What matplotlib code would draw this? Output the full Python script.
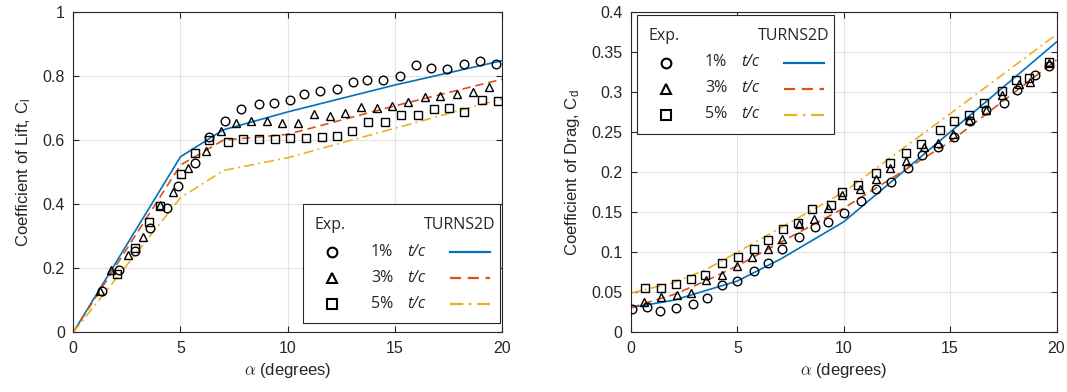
import numpy as np
import matplotlib
matplotlib.use("Agg")
import matplotlib.pyplot as plt
from matplotlib.patches import Rectangle
from matplotlib.lines import Line2D

plt.rcParams['font.family'] = ['Liberation Sans', 'DejaVu Sans']
plt.rcParams['mathtext.fontset'] = 'cm'

# ---- data ----
lift_a1 = [1.32, 2.13, 2.88, 3.58, 4.36, 4.90, 5.68, 6.33, 7.08, 7.81, 8.65, 9.38, 10.11,
           10.78, 11.51, 12.29, 13.04, 13.72, 14.47, 15.24, 15.99, 16.68, 17.45, 18.23, 18.98, 19.72]
lift_c1 = [0.129, 0.193, 0.255, 0.325, 0.387, 0.458, 0.528, 0.609, 0.661, 0.698, 0.713, 0.717, 0.726,
           0.744, 0.752, 0.761, 0.780, 0.788, 0.788, 0.801, 0.834, 0.825, 0.822, 0.838, 0.847, 0.838]
lift_a3 = [1.25, 1.74, 2.57, 3.27, 4.05, 4.67, 5.37, 6.18, 6.88, 7.58, 8.28, 9.02, 9.72,
           10.50, 11.23, 11.98, 12.68, 13.41, 14.19, 14.89, 15.63, 16.41, 17.11, 17.92, 18.67, 19.41]
lift_c3 = [0.129, 0.193, 0.242, 0.297, 0.398, 0.439, 0.512, 0.567, 0.627, 0.655, 0.661, 0.661, 0.655,
           0.655, 0.683, 0.676, 0.686, 0.703, 0.700, 0.705, 0.718, 0.736, 0.738, 0.745, 0.749, 0.766]
lift_a5 = [2.05, 2.88, 3.53, 4.05, 5.01, 5.68, 6.33, 7.23, 7.93, 8.68, 9.41, 10.11, 10.86,
           11.59, 12.29, 12.99, 13.77, 14.55, 15.29, 16.07, 16.83, 17.55, 18.25, 19.06, 19.80]
lift_c5 = [0.181, 0.262, 0.344, 0.395, 0.495, 0.559, 0.601, 0.594, 0.603, 0.603, 0.603, 0.606, 0.606,
           0.611, 0.613, 0.627, 0.656, 0.658, 0.677, 0.677, 0.697, 0.699, 0.689, 0.724, 0.721]

# TURNS2D lift
cfd_lift_a = [0, 5, 7, 10, 15, 20]
cfd_lift_1 = [0, 0.548, 0.632, 0.688, 0.772, 0.848]
cfd_lift_3 = [0, 0.522, 0.600, 0.618, 0.707, 0.790]
cfd_lift_5 = [0, 0.420, 0.505, 0.545, 0.637, 0.729]

drag_a1 = [0.03, 0.77, 1.36, 2.11, 2.90, 3.55, 4.30, 4.99, 5.77, 6.45, 7.12, 7.89, 8.67, 9.26,
           10.01, 10.80, 11.53, 12.22, 13.02, 13.69, 14.43, 15.16, 15.92, 16.70, 17.53, 18.15, 19.01, 19.64]
drag_c1 = [0.0285, 0.031, 0.026, 0.030, 0.035, 0.043, 0.059, 0.064, 0.076, 0.087, 0.104, 0.119, 0.1315, 0.138,
           0.149, 0.164, 0.179, 0.188, 0.205, 0.2215, 0.231, 0.244, 0.2635, 0.277, 0.2865, 0.302, 0.321, 0.333]
drag_a3 = [0.61, 1.39, 2.17, 2.80, 3.52, 4.30, 4.96, 5.69, 6.45, 7.12, 7.89, 8.61, 9.26,
           9.94, 10.78, 11.53, 12.16, 12.94, 13.75, 14.43, 15.13, 15.88, 16.70, 17.45, 18.23, 18.77, 19.64]
drag_c3 = [0.038, 0.044, 0.046, 0.049, 0.0655, 0.071, 0.083, 0.0936, 0.104, 0.116, 0.135, 0.142, 0.155,
           0.171, 0.179, 0.191, 0.205, 0.2145, 0.231, 0.236, 0.248, 0.265, 0.277, 0.2965, 0.310, 0.312, 0.336]
drag_a5 = [0.66, 1.41, 2.11, 2.80, 3.46, 4.26, 5.04, 5.77, 6.45, 7.15, 7.83, 8.53, 9.39,
           9.94, 10.67, 11.50, 12.19, 12.91, 13.65, 14.51, 15.16, 15.88, 16.57, 17.45, 18.11, 18.70, 19.67]
drag_c5 = [0.0557, 0.0557, 0.0606, 0.0668, 0.072, 0.087, 0.0936, 0.104, 0.1155, 0.1287, 0.137, 0.1535, 0.159,
           0.175, 0.184, 0.199, 0.212, 0.2245, 0.235, 0.2525, 0.2635, 0.271, 0.2865, 0.301, 0.3155, 0.318, 0.338]

# TURNS2D drag
cfd_drag_a = [0, 2, 3.5, 5, 7, 10, 15, 20]
cfd_drag_1 = [0.031, 0.040, 0.052, 0.064, 0.091, 0.138, 0.250, 0.3625]
cfd_drag_3 = [0.031, 0.047, 0.064, 0.083, 0.112, 0.155, 0.238, 0.340]
cfd_drag_5 = [0.049, 0.062, 0.078, 0.100, 0.130, 0.175, 0.273, 0.372]

x_ticks = [0, 5, 10, 15, 20]
lift_ticks = [0, 0.2, 0.4, 0.6, 0.8, 1.0]
lift_ticklabels = ['0', '0.2', '0.4', '0.6', '0.8', '1']
drag_ticks = [0, 0.05, 0.1, 0.15, 0.2, 0.25, 0.3, 0.35, 0.4]
drag_ticklabels = ['0', '0.05', '0.1', '0.15', '0.2', '0.25', '0.3', '0.35', '0.4']

thick_labels = ['1%', '3%', '5%']
exp_markers = ['o', '^', 's']

# ---- style ----
blue = '#0072BD'
orange = '#D95319'
yellow = '#EDB120'
cfd_colors = [blue, orange, yellow]
cfd_styles = ['-', (0, (5, 3)), (0, (6, 2.5, 1.2, 2.5))]
dark = '#262626'
legend_font = ['Open Sans', 'DejaVu Sans']

W, H = 1067, 392
fig = plt.figure(figsize=(W / 100, H / 100), dpi=100)

def px(x, y):
    # pixel position (top-left origin) to figure fraction
    return x / W, 1 - y / H

def make_axes(x0, x1, y0, y1):
    a = fig.add_axes([x0 / W, 1 - y1 / H, (x1 - x0) / W, (y1 - y0) / H])
    a.grid(True, color='#e3e3e3', lw=0.8)
    a.set_axisbelow(True)
    a.tick_params(direction='in', top=True, right=True, length=4, width=0.8,
                  colors=dark, labelsize=11.5, pad=6)
    for s in a.spines.values():
        s.set_color(dark)
        s.set_linewidth(0.8)
    return a

def plot_exp(ax, series):
    for (a, c), m in zip(series, exp_markers):
        ax.plot(a, c, m, ls='none', mfc='none', mec='black', ms=6.2, mew=1.0, zorder=3)

def plot_cfd(ax, a, ys):
    for c, col, st in zip(ys, cfd_colors, cfd_styles):
        ax.plot(a, c, color=col, ls=st, lw=1.2, zorder=2)

def draw_legend(ax, bx, by):
    # custom three-column legend, box top-left at pixel (bx, by)
    kw = dict(transform=fig.transFigure, clip_on=False)
    tkw = dict(fontsize=11.5, color=dark, zorder=7, family=legend_font, va='center', **kw)
    ax.add_patch(Rectangle(px(bx, by + 119), 197 / W, 119 / H, fc='white',
                           ec=dark, lw=0.8, zorder=6, **kw))
    ax.text(*px(bx + 12, by + 21), 'Exp.', ha='left', **tkw)
    ax.text(*px(bx + 192, by + 21), 'TURNS2D', ha='right', **tkw)
    for i in range(3):
        yy = by + 47.5 + i * 26
        mx, my = px(bx + 29, yy)
        ax.add_line(Line2D([mx], [my], marker=exp_markers[i], ls='none', mfc='none',
                           mec='black', ms=7, mew=1.5, zorder=7, **kw))
        ax.text(*px(bx + 68, yy), thick_labels[i], ha='left', **tkw)
        ax.text(*px(bx + 104, yy), 't/c', ha='left', style='italic', **tkw)
        p0, p1 = px(bx + 147, yy), px(bx + 187, yy)
        ax.add_line(Line2D([p0[0], p1[0]], [p0[1], p1[1]], color=cfd_colors[i],
                           ls=cfd_styles[i], lw=1.6, zorder=7, **kw))

# ---- lift ----
ax1 = make_axes(73.3, 502, 12, 332.3)
plot_cfd(ax1, cfd_lift_a, [cfd_lift_1, cfd_lift_3, cfd_lift_5])
plot_exp(ax1, [(lift_a1, lift_c1), (lift_a3, lift_c3), (lift_a5, lift_c5)])
ax1.set_xlim(0, 20)
ax1.set_ylim(0, 1)
ax1.set_xticks(x_ticks)
ax1.set_yticks(lift_ticks)
ax1.set_yticklabels(lift_ticklabels)
ax1.set_xlabel(r'$\alpha$ (degrees)', fontsize=12, color=dark, labelpad=4)
ax1.set_ylabel(r'Coefficient of Lift, C$_\mathregular{l}$', fontsize=12, color=dark, labelpad=7)
draw_legend(ax1, 303, 204)

# ---- drag ----
ax2 = make_axes(631, 1056.5, 12, 332.3)
plot_cfd(ax2, cfd_drag_a, [cfd_drag_1, cfd_drag_3, cfd_drag_5])
plot_exp(ax2, [(drag_a1, drag_c1), (drag_a3, drag_c3), (drag_a5, drag_c5)])
ax2.set_xlim(0, 20)
ax2.set_ylim(0, 0.4)
ax2.set_xticks(x_ticks)
ax2.set_yticks(drag_ticks)
ax2.set_yticklabels(drag_ticklabels)
ax2.set_xlabel(r'$\alpha$ (degrees)', fontsize=12, color=dark, labelpad=4)
ax2.set_ylabel(r'Coefficient of Drag, C$_\mathregular{d}$', fontsize=12, color=dark, labelpad=7)
draw_legend(ax2, 637, 15)

fig.savefig('out.png', dpi=100)
